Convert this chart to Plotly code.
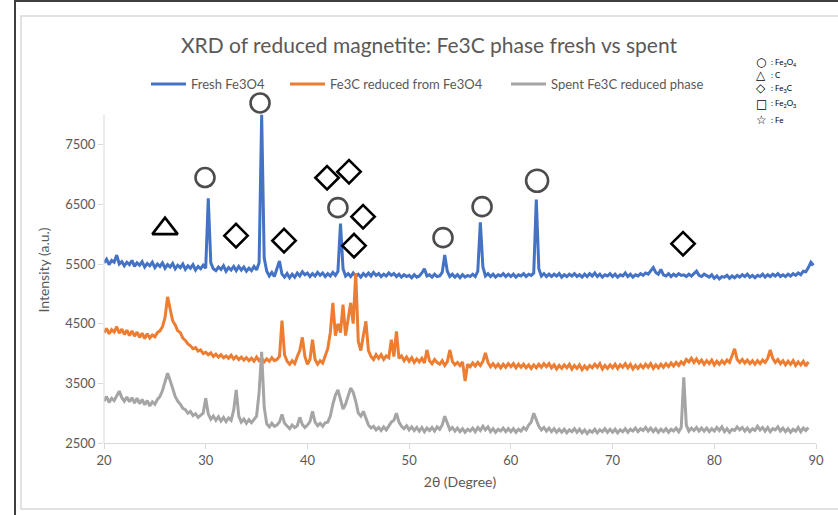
import numpy as np
import plotly.graph_objects as go

# ---------------- data ----------------
STEP = 0.25
START = 20.0

fresh_fe3o4 = [
    5520, 5580, 5490, 5560, 5530, 5650, 5500, 5540, 5470, 5530, 5490, 5560, 5460, 5520, 5480, 5540, 5450, 5510, 5470, 5530,
    5440, 5500, 5460, 5520, 5430, 5490, 5450, 5510, 5420, 5480, 5440, 5500, 5410, 5470, 5430, 5490, 5400, 5460, 5420, 5480,
    5430, 6600, 5520, 5420, 5390, 5450, 5410, 5470, 5380, 5440, 5400, 5460, 5390, 5460, 5400, 5450, 5380, 5430, 5390, 5460,
    5400, 5520, 8000, 5600, 5380, 5300, 5360, 5290, 5420, 5550, 5330, 5280, 5340, 5270, 5330, 5280, 5350, 5300, 5370, 5320,
    5350, 5290, 5340, 5300, 5360, 5310, 5350, 5290, 5340, 5300, 5360, 5310, 5380, 6180, 5420, 5300, 5340, 5290, 5350, 5300,
    5330, 5280, 5340, 5300, 5350, 5300, 5360, 5310, 5340, 5290, 5330, 5300, 5350, 5310, 5340, 5290, 5330, 5280, 5320, 5290,
    5310, 5270, 5320, 5280, 5300, 5350, 5420, 5300, 5320, 5280, 5330, 5290, 5300, 5360, 5650, 5380, 5290, 5330, 5280, 5320,
    5270, 5320, 5280, 5310, 5290, 5330, 5290, 5380, 6200, 5450, 5300, 5340, 5290, 5330, 5280, 5320, 5300, 5340, 5290, 5330,
    5290, 5330, 5280, 5320, 5300, 5340, 5290, 5330, 5310, 5350, 6580, 5420, 5300, 5340, 5290, 5330, 5290, 5330, 5300, 5340,
    5280, 5320, 5290, 5330, 5300, 5340, 5290, 5320, 5280, 5330, 5290, 5340, 5300, 5350, 5290, 5330, 5280, 5320, 5300, 5340,
    5290, 5330, 5280, 5320, 5300, 5350, 5290, 5330, 5280, 5320, 5300, 5340, 5310, 5350, 5330, 5380, 5440, 5360, 5330, 5410,
    5320, 5300, 5340, 5290, 5330, 5300, 5340, 5310, 5320, 5290, 5330, 5300, 5340, 5380, 5310, 5290, 5330, 5300, 5280, 5320,
    5260, 5300, 5250, 5290, 5280, 5310, 5260, 5300, 5270, 5310, 5280, 5320, 5290, 5330, 5280, 5310, 5270, 5310, 5290, 5330,
    5280, 5320, 5290, 5330, 5300, 5340, 5290, 5320, 5290, 5330, 5300, 5340, 5310, 5350, 5320, 5380, 5370, 5440, 5530, 5480,
]

fe3c_reduced = [
    4350, 4420, 4330, 4400, 4360, 4450, 4340, 4410, 4320, 4390, 4300, 4380, 4290, 4360, 4270, 4340, 4250, 4330, 4260, 4310,
    4280, 4350, 4380, 4450, 4600, 4950, 4750, 4550, 4480, 4380, 4350, 4260, 4220, 4160, 4130, 4080, 4100, 4040, 4060, 4000,
    4020, 3980, 4010, 3950, 3990, 3940, 3980, 3930, 3960, 3920, 3970, 3910, 3950, 3900, 3940, 3890, 3930, 3880, 3920, 3870,
    3940, 3880, 3920, 3860, 3910, 3870, 3930, 3880, 3900, 3950, 4550, 3980, 3870, 3820, 3880, 3830, 3950, 4050, 4270, 3950,
    3820, 3900, 4230, 3900, 3820, 3880, 3840, 3950, 4080, 4350, 4850, 4300, 4500, 4350, 4820, 4300, 4600, 4850, 4500, 5350,
    4200, 4050, 4300, 4540, 4050, 3950, 3900, 3980, 3920, 3980, 3900, 3960, 3930, 4230, 3950, 4370, 3920, 3960, 3880, 3940,
    3870, 3930, 3850, 3910, 3860, 3920, 3840, 4060, 3880, 3830, 3900, 3850, 3820, 3880, 3800, 3860, 4060, 3870, 3810, 3850,
    3800, 3860, 3540, 3820, 3780, 3840, 3790, 3850, 3800, 3870, 4010, 3850, 3780, 3830, 3770, 3820, 3760, 3820, 3770, 3830,
    3780, 3830, 3760, 3820, 3770, 3820, 3760, 3810, 3750, 3810, 3760, 3820, 3770, 3830, 3780, 3830, 3760, 3810, 3740, 3800,
    3750, 3810, 3760, 3820, 3740, 3800, 3750, 3810, 3730, 3790, 3740, 3800, 3760, 3820, 3770, 3830, 3740, 3800, 3750, 3810,
    3760, 3820, 3750, 3810, 3770, 3830, 3760, 3820, 3740, 3800, 3750, 3810, 3760, 3820, 3770, 3830, 3750, 3810, 3760, 3820,
    3770, 3830, 3780, 3840, 3790, 3850, 3800, 3860, 3820, 3900, 3860, 3920, 3850, 3910, 3840, 3890, 3820, 3880, 3830, 3890,
    3810, 3870, 3820, 3880, 3830, 3890, 3850, 3950, 4080, 3900, 3850, 3900, 3840, 3890, 3830, 3880, 3820, 3880, 3830, 3890,
    3850, 3920, 4060, 3920, 3850, 3900, 3830, 3880, 3810, 3870, 3820, 3880, 3800, 3860, 3810, 3870, 3790, 3860,
]

spent_fe3c = [
    3200, 3280, 3180, 3250, 3210, 3300, 3370, 3260, 3200, 3270, 3190, 3260, 3170, 3250, 3160, 3230, 3140, 3210, 3120, 3190,
    3150, 3230, 3280, 3380, 3550, 3670, 3550, 3400, 3280, 3200, 3150, 3080, 3060, 3000, 3030, 2960, 2990, 2930, 2970, 3000,
    3250, 2990, 2900, 2950, 2880, 2940, 2870, 2930, 2860, 2920, 2880, 3050, 3390, 2950, 2850, 2900, 2830, 2890, 2840, 2900,
    2950, 3350, 4030, 3100, 2820, 2770, 2830, 2780, 2800, 2850, 2980, 2830, 2780, 2740, 2800, 2760, 2790, 2930, 2810, 2760,
    2800, 2860, 3030, 2850, 2790, 2830, 2780, 2840, 2850, 2950, 3150, 3300, 3390, 3250, 3070, 3150, 3300, 3420, 3350, 3200,
    3000, 2950, 3030, 2900, 2800, 2750, 2780, 2720, 2760, 2710, 2770, 2720, 2790, 2850, 2880, 3000, 2850, 2780, 2740, 2790,
    2720, 2770, 2710, 2760, 2700, 2760, 2690, 2750, 2710, 2760, 2700, 2770, 2730, 2800, 2950, 2820, 2720, 2760, 2700, 2750,
    2690, 2740, 2680, 2730, 2700, 2750, 2690, 2760, 2710, 2780, 2720, 2770, 2690, 2740, 2680, 2730, 2700, 2750, 2690, 2740,
    2690, 2740, 2680, 2730, 2700, 2760, 2720, 2800, 2850, 3000, 2900, 2780, 2720, 2760, 2700, 2750, 2690, 2740, 2680, 2730,
    2680, 2730, 2670, 2720, 2690, 2740, 2680, 2730, 2670, 2720, 2660, 2710, 2680, 2730, 2670, 2720, 2690, 2740, 2680, 2730,
    2680, 2730, 2670, 2720, 2690, 2740, 2680, 2730, 2700, 2750, 2690, 2740, 2710, 2760, 2700, 2750, 2690, 2740, 2680, 2730,
    2690, 2740, 2680, 2730, 2700, 2750, 2690, 2760, 3600, 2800, 2700, 2750, 2710, 2760, 2700, 2750, 2700, 2750, 2690, 2740,
    2700, 2760, 2710, 2770, 2690, 2740, 2680, 2730, 2710, 2770, 2720, 2760, 2700, 2750, 2690, 2740, 2710, 2780, 2720, 2760,
    2700, 2760, 2690, 2740, 2720, 2770, 2700, 2750, 2690, 2740, 2680, 2730, 2700, 2760, 2690, 2750, 2710, 2760,
]

series_names = ["Fresh Fe3O4", "Fe3C reduced from Fe3O4", "Spent Fe3C reduced phase"]
series_colors = ["#4472C4", "#ED7D31", "#A5A5A5"]

# phase markers (2θ, intensity position of symbol)
fe3o4_x = [35.34, 29.93, 43.0, 53.33, 57.17, 62.58]
fe3o4_y = [8200, 6950, 6445, 5942, 6462, 6897]
fe3o4_size = [19, 19, 19, 19, 19, 22]
carbon_x = [26.0]
carbon_y = [6093]
fe3c_x = [32.98, 37.7, 41.93, 44.09, 45.47, 44.58, 76.93]
fe3c_y = [5976, 5892, 6947, 7048, 6294, 5808, 5841]

y_ticks = [2500, 3500, 4500, 5500, 6500, 7500]
y_axis_max = 8000
x_ticks = [20, 30, 40, 50, 60, 70, 80, 90]

# ---------------- figure ----------------
W, H = 838, 515
L, R, T, B = 104, 22, 97, 72
PW, PH = W - L - R, H - T - B


def px_x(px):
    return (px - L) / PW


def px_y(py):
    return (H - B - py) / PH


FONT = "Lato, 'Open Sans', sans-serif"
GREY_TXT = "#595959"
AXIS_C = "#D9D9D9"

fig = go.Figure()
legend_ids = ["legend", "legend2", "legend3"]
for name, vals, col, lg in zip(series_names, [fresh_fe3o4, fe3c_reduced, spent_fe3c], series_colors, legend_ids):
    x = START + STEP * np.arange(len(vals))
    fig.add_trace(go.Scatter(x=x, y=vals, mode="lines", name=name, legend=lg,
                             line=dict(color=col, width=3)))

mk_line = dict(width=2.6, color="black")
fig.add_trace(go.Scatter(x=fe3o4_x, y=fe3o4_y, mode="markers", showlegend=False, cliponaxis=False,
                         marker=dict(symbol="circle-open", size=fe3o4_size, color="black", line=mk_line)))
fig.add_trace(go.Scatter(x=carbon_x, y=carbon_y, mode="markers", showlegend=False, cliponaxis=False,
                         marker=dict(symbol="triangle-up-open", size=22, color="black", line=mk_line)))
fig.add_trace(go.Scatter(x=fe3c_x, y=fe3c_y, mode="markers", showlegend=False, cliponaxis=False,
                         marker=dict(symbol="diamond-open", size=18, color="black", line=mk_line)))

# key of phase symbols (top-right)
key_symbols = ["○", "△", "◇", "□", "☆"]
key_labels = [": Fe<sub>3</sub>O<sub>4</sub>", ": C", ": Fe<sub>3</sub>C", ": Fe<sub>2</sub>O<sub>3</sub>", ": Fe"]
key_ys = [62, 75, 88, 104, 120]
annotations = []
for s, lab, yy in zip(key_symbols, key_labels, key_ys):
    annotations.append(dict(xref="paper", yref="paper", x=px_x(761), y=px_y(yy), text="<b>" + s + "</b>",
                            showarrow=False, xanchor="center", yanchor="middle",
                            font=dict(family="DejaVu Sans", size=12, color="black")))
    annotations.append(dict(xref="paper", yref="paper", x=px_x(769), y=px_y(yy), text=lab, showarrow=False,
                            xanchor="left", yanchor="middle",
                            font=dict(family=FONT, size=8, color="black")))

shapes = [
    dict(type="rect", xref="paper", yref="paper", x0=px_x(21), x1=px_x(845), y0=px_y(509), y1=px_y(16),
         line=dict(color=AXIS_C, width=1.5), fillcolor="rgba(0,0,0,0)", layer="below"),
    dict(type="line", xref="paper", yref="paper", x0=px_x(15), x1=px_x(15), y0=px_y(0), y1=px_y(515),
         line=dict(color="#404040", width=2)),
    dict(type="line", xref="paper", yref="paper", x0=px_x(15), x1=px_x(845), y0=px_y(1), y1=px_y(1),
         line=dict(color="#404040", width=2)),
    # y axis line (stops at the axis maximum)
    dict(type="line", xref="paper", yref="y", x0=0, x1=0, y0=y_ticks[0], y1=y_axis_max,
         line=dict(color=AXIS_C, width=1)),
]

leg_common = dict(orientation="h", xanchor="left", yanchor="middle", y=px_y(84),
                  font=dict(family=FONT, size=13, color=GREY_TXT), bgcolor="rgba(0,0,0,0)",
                  itemwidth=35)
fig.update_layout(
    width=W, height=H,
    margin=dict(l=L, r=R, t=T, b=B),
    paper_bgcolor="white", plot_bgcolor="white",
    font=dict(family=FONT, color=GREY_TXT, size=12),
    title=dict(text="XRD of reduced magnetite: Fe3C phase fresh vs spent", xref="container", yref="container",
               x=429 / W, y=1 - 46 / H, xanchor="center", yanchor="middle",
               font=dict(family=FONT, size=21, color=GREY_TXT)),
    legend=dict(leg_common, x=px_x(146)),
    legend2=dict(leg_common, x=px_x(285)),
    legend3=dict(leg_common, x=px_x(506)),
    showlegend=True,
    annotations=annotations,
    shapes=shapes,
)
fig.update_xaxes(range=[20, 90], tickvals=x_ticks, showgrid=False, zeroline=False,
                 showline=True, linecolor=AXIS_C, linewidth=1,
                 ticks="outside", ticklen=5, tickcolor=AXIS_C,
                 tickfont=dict(family=FONT, size=13, color=GREY_TXT),
                 title=dict(text="2θ (Degree)", font=dict(family=FONT, size=14, color=GREY_TXT), standoff=10))
fig.update_yaxes(range=[2500, 8300], tickvals=y_ticks, showgrid=False, zeroline=False,
                 showline=False,
                 ticks="outside", ticklen=5, tickcolor=AXIS_C,
                 tickfont=dict(family=FONT, size=13, color=GREY_TXT),
                 title=dict(text="Intensity (a.u.)", font=dict(family=FONT, size=14, color=GREY_TXT), standoff=12))

fig.write_html("out.html")
